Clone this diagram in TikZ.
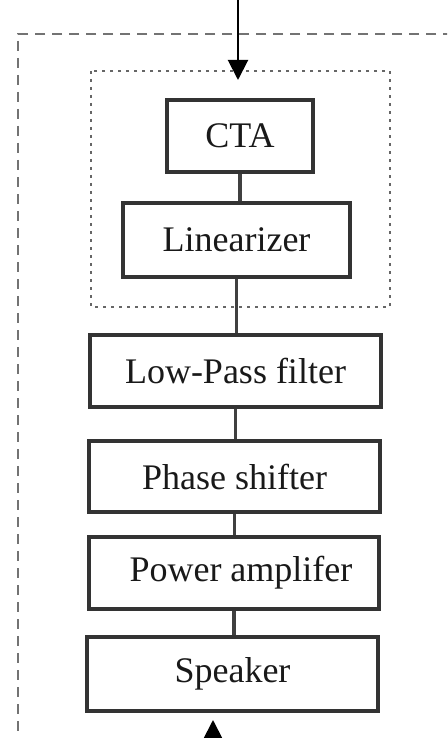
\documentclass[tikz,border=0pt]{standalone}
\usepackage{fontspec}
\setmainfont{Liberation Serif}
\usetikzlibrary{arrows.meta}
\begin{document}
\begin{tikzpicture}[x=1pt,y=-1pt,
  blk/.style={draw=black!80,line width=3.8pt,inner sep=0pt,font=\fontsize{36}{40}\selectfont,text=black!90},
  conn/.style={draw=black!75,line width=3.8pt},
  sig/.style={draw=black,line width=2pt,-{Triangle[length=20pt,width=20pt]}},
  outerbox/.style={draw=black!55,line width=1.4pt,dash pattern=on 10pt off 7pt},
  innerbox/.style={draw=black!60,line width=1.2pt,dash pattern=on 3pt off 5pt}]
\useasboundingbox (0,0) rectangle (447,738);
\clip (0,0) rectangle (447,738);
\fill[white] (0,0) rectangle (447,738);
% outer dashed frame (runs off the page)
\draw[outerbox] (470,34) -- (18,34) -- (18,760);
% inner dotted frame
\draw[innerbox] (91,71) rectangle (390,307);
% blocks
\node[blk,minimum width=146pt,minimum height=72pt] (cta) at (240,136) {CTA};
\node[blk,minimum width=227pt,minimum height=74pt] (lin) at (236.5,240) {Linearizer};
\node[blk,minimum width=291pt,minimum height=72pt] (lpf) at (235.5,371) {Low-Pass filter};
\node[blk,minimum width=291pt,minimum height=71pt] (ps) at (234.5,476.5) {Phase shifter};
\node[blk,minimum width=290pt,minimum height=72pt] (pa) at (234,573) {\hspace*{14pt}Power amplifer};
\node[blk,minimum width=291pt,minimum height=74pt] (sp) at (232.5,674) {Speaker};
% connectors
\draw[conn] (cta.south) -- (cta.south |- lin.north);
\draw[conn] (lin.south) -- (lin.south |- lpf.north);
\draw[conn] (lpf.south) -- (lpf.south |- ps.north);
\draw[conn] (ps.south) -- (ps.south |- pa.north);
\draw[conn] (pa.south) -- (pa.south |- sp.north);
% input and output arrows
\coordinate (inTop) at (238,0);
\coordinate (inTip) at (238,80);
\draw[sig] (inTop) -- (inTip);
\coordinate (outBot) at (213,770);
\coordinate (outTip) at (213,720);
\draw[sig] (outBot) -- (outTip);
\end{tikzpicture}
\end{document}
